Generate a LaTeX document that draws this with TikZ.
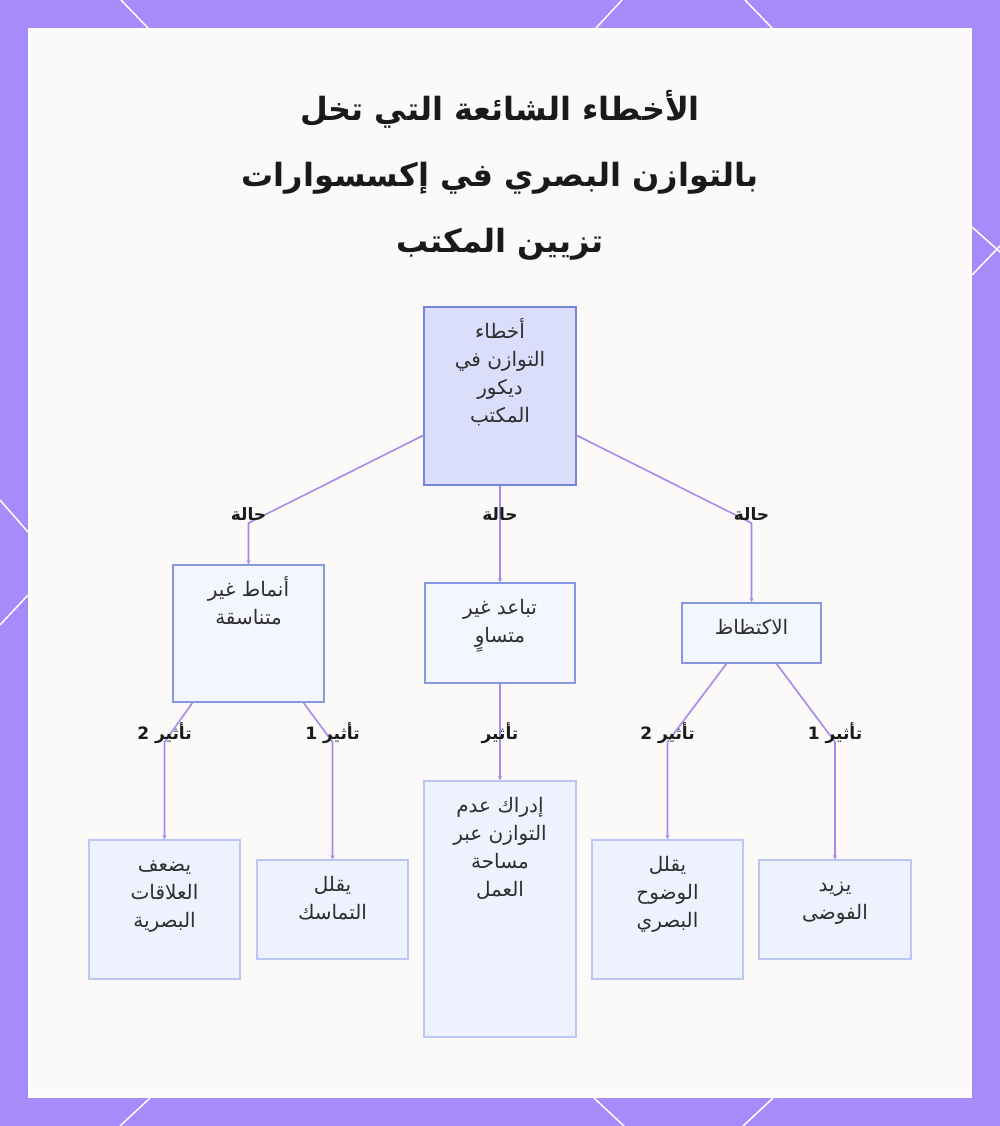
\documentclass[tikz,border=0pt]{standalone}
\usepackage{fontspec}
\newfontfamily\arabicfont[Script=Arabic]{DejaVu Sans}
\TeXXeTstate=1
\usetikzlibrary{arrows.meta}
\definecolor{framecol}{HTML}{A78BFA}
\definecolor{panelcol}{HTML}{FBFAF9}
\definecolor{edgecol}{HTML}{A48BEA}
\definecolor{rootfill}{HTML}{DBDEFB}
\definecolor{rootdraw}{HTML}{7385DC}
\definecolor{midfill}{HTML}{F4F6FE}
\definecolor{middraw}{HTML}{8797E2}
\definecolor{leaffill}{HTML}{EEF2FE}
\definecolor{leafdraw}{HTML}{BBC6F4}
\definecolor{txtcol}{HTML}{2E2E2E}
\definecolor{labcol}{HTML}{1A1A1A}
\newcommand\ar[1]{\beginR #1\endR}
\newcommand\fl{\rule{0pt}{21pt}}
\tikzset{
  boxbase/.style={rectangle, inner sep=0pt, line width=1.5pt},
  rootbox/.style={boxbase, fill=rootfill, draw=rootdraw},
  midbox/.style={boxbase, fill=midfill, draw=middraw},
  leafbox/.style={boxbase, fill=leaffill, draw=leafdraw},
  txt/.style={inner sep=0pt, anchor=north, align=center, text=txtcol,
              font=\arabicfont\fontsize{20}{28}\selectfont},
  lab/.style={inner sep=1pt, text=labcol,
              font=\arabicfont\bfseries\fontsize{17}{20}\selectfont},
  edge/.style={draw=edgecol, line width=1.6pt, -{Stealth[length=4pt,width=4pt]}},
  deco/.style={draw=white, line width=1.5pt},
}
\begin{document}
\begin{tikzpicture}[x=1pt,y=-1pt]
\useasboundingbox (0,0) rectangle (1000,1126);
\fill[framecol] (0,0) rectangle (1000,1126);
\fill[white] (28,28) rectangle (972,1098);
\fill[panelcol] (31,31) rectangle (969,1095);
% decorative lines
\draw[deco] (121,0) -- (148,28);
\draw[deco] (622,0) -- (596,28);
\draw[deco] (745,0) -- (772,28);
\draw[deco] (150,1098) -- (120,1126);
\draw[deco] (594,1098) -- (624,1126);
\draw[deco] (773,1098) -- (743,1126);
\draw[deco] (0,500) -- (28,532);
\draw[deco] (28,595) -- (0,625);
\draw[deco] (972,227) -- (1000,252);
\draw[deco] (972,275) -- (1000,246);

% title
\node[inner sep=0pt, anchor=north, align=center, text=labcol,
      font=\arabicfont\bfseries\fontsize{32}{66}\selectfont] (title) at (500,80)
  {\rule{0pt}{40pt}\ar{الأخطاء الشائعة التي تخل}\\\ar{بالتوازن البصري في إكسسوارات}\\\ar{تزيين المكتب}};

% boxes
\node[rootbox, minimum width=152pt, minimum height=178pt] (root) at (500,396) {};
\node[midbox, minimum width=151pt, minimum height=137pt] (m1) at (248.5,633.5) {};
\node[midbox, minimum width=150pt, minimum height=100pt] (m2) at (500,633) {};
\node[midbox, minimum width=139pt, minimum height=60pt] (m3) at (751.5,633) {};
\node[leafbox, minimum width=151pt, minimum height=139pt] (l1) at (164.5,909.5) {};
\node[leafbox, minimum width=151pt, minimum height=99pt] (l2) at (332.5,909.5) {};
\node[leafbox, minimum width=152pt, minimum height=256pt] (c1) at (500,909) {};
\node[leafbox, minimum width=151pt, minimum height=139pt] (r1) at (667.5,909.5) {};
\node[leafbox, minimum width=152pt, minimum height=99pt] (r2) at (835,909.5) {};

% texts
\node[txt] (troot) at ([yshift=-11pt]root.north) {\fl\ar{أخطاء}\\\ar{التوازن في}\\\ar{ديكور}\\\ar{المكتب}};
\node[txt] (tm1) at ([yshift=-11pt]m1.north) {\fl\ar{أنماط غير}\\\ar{متناسقة}};
\node[txt] (tm2) at ([yshift=-11pt]m2.north) {\fl\ar{تباعد غير}\\\ar{متساوٍ}};
\node[txt] (tm3) at ([yshift=-11pt]m3.north) {\fl\ar{الاكتظاظ}};
\node[txt] (tl1) at ([yshift=-11pt]l1.north) {\fl\ar{يضعف}\\\ar{العلاقات}\\\ar{البصرية}};
\node[txt] (tl2) at ([yshift=-11pt]l2.north) {\fl\ar{يقلل}\\\ar{التماسك}};
\node[txt] (tc1) at ([yshift=-11pt]c1.north) {\fl\ar{إدراك عدم}\\\ar{التوازن عبر}\\\ar{مساحة}\\\ar{العمل}};
\node[txt] (tr1) at ([yshift=-11pt]r1.north) {\fl\ar{يقلل}\\\ar{الوضوح}\\\ar{البصري}};
\node[txt] (tr2) at ([yshift=-11pt]r2.north) {\fl\ar{يزيد}\\\ar{الفوضى}};

% bend coordinates
\coordinate (s1) at (424,435);
\coordinate (s3) at (576,435);
\coordinate (b1) at (248.5,523);
\coordinate (b3) at (751.5,523);
\coordinate (u1) at (193,702);
\coordinate (u2) at (303,702);
\coordinate (u3) at (727,663);
\coordinate (u4) at (776,663);
\coordinate (d1) at (164.5,742);
\coordinate (d2) at (332.5,742);
\coordinate (d3) at (667.5,742);
\coordinate (d4) at (835,742);

% connectors
\draw[edge] (s1) -- (b1) -- (m1.north);
\draw[edge] (root.south) -- (m2.north);
\draw[edge] (s3) -- (b3) -- (m3.north);
\draw[edge] (u1) -- (d1) -- (l1.north);
\draw[edge] (u2) -- (d2) -- (l2.north);
\draw[edge] (m2.south) -- (c1.north);
\draw[edge] (u3) -- (d3) -- (r1.north);
\draw[edge] (u4) -- (d4) -- (r2.north);

% labels
\node[lab] (la1) at (248.5,514) {\ar{حالة}};
\node[lab] (la2) at (500,514) {\ar{حالة}};
\node[lab] (la3) at (751.5,514) {\ar{حالة}};
\node[lab] (lb1) at (164.5,733) {\ar{تأثير 2}};
\node[lab] (lb2) at (332.5,733) {\ar{تأثير 1}};
\node[lab] (lb3) at (500,733) {\ar{تأثير}};
\node[lab] (lb4) at (667.5,733) {\ar{تأثير 2}};
\node[lab] (lb5) at (835,733) {\ar{تأثير 1}};
\end{tikzpicture}
\end{document}
